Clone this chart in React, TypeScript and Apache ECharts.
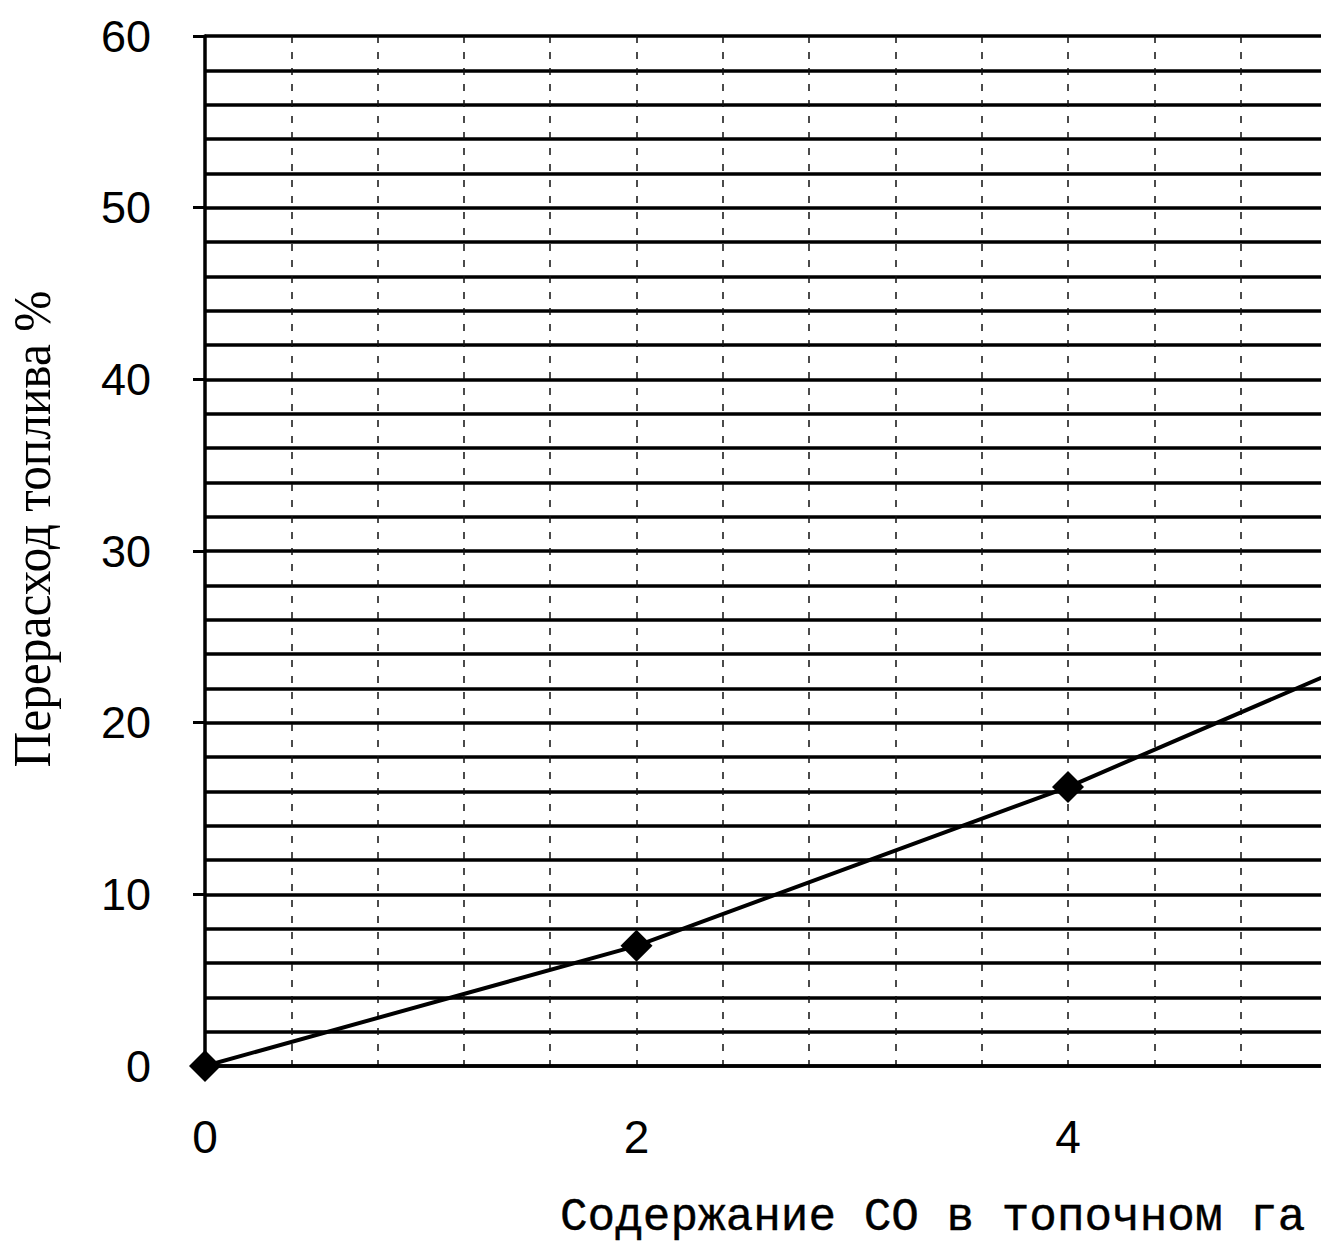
import React, { useEffect, useRef } from "react";
import * as echarts from "echarts";

const coContent: number[] = [0, 2, 4, 6];
const fuelOverrun: number[] = [0, 7, 16.25, 27.1];
const yTitle = "Перерасход топлива %";
const xTitle = "Содержание СО в топочном га";

export default function App() {
  const ref = useRef<HTMLDivElement>(null);
  useEffect(() => {
    if (!ref.current) return;
    const chart = echarts.init(ref.current, undefined, { renderer: "svg" });
    const data = coContent.map((x, i) => [x, fuelOverrun[i]]);
    chart.setOption({
      animation: false,
      backgroundColor: "#ffffff",
      grid: { left: 205, top: 36, bottom: 185, right: 100.5, containLabel: false },
      xAxis: {
        type: "value",
        min: 0,
        max: 6,
        interval: 2,
        axisLine: { show: true, lineStyle: { color: "#000", width: 3.5 } },
        axisTick: { show: false },
        axisLabel: {
          color: "#000",
          fontFamily: "Liberation Sans",
          fontSize: 46,
          margin: 48,
          showMaxLabel: false,
        },
        splitLine: { show: true, lineStyle: { color: "#111", width: 1.5, type: [7, 9] } },
        minorTick: { show: false, splitNumber: 5 },
        minorSplitLine: { show: true, lineStyle: { color: "#111", width: 1.5, type: [7, 9] } },
      },
      yAxis: {
        type: "value",
        min: 0,
        max: 60,
        interval: 10,
        axisLine: { show: true, lineStyle: { color: "#000", width: 3.5 } },
        axisTick: { show: true, length: 12, lineStyle: { color: "#000", width: 3 } },
        axisLabel: {
          color: "#000",
          fontFamily: "Liberation Sans",
          fontSize: 45,
          margin: 54,
        },
        splitLine: { show: true, lineStyle: { color: "#000", width: 3.5 } },
        minorTick: { show: false, splitNumber: 5 },
        minorSplitLine: { show: true, lineStyle: { color: "#000", width: 3.5 } },
      },
      series: [
        {
          type: "line",
          data,
          symbol: "diamond",
          symbolSize: 32,
          lineStyle: { color: "#000", width: 4 },
          itemStyle: { color: "#000" },
          z: 5,
        },
      ],
      graphic: [
        {
          type: "text",
          x: 33,
          y: 529,
          rotation: Math.PI / 2,
          scaleX: 0.95,
          style: {
            text: yTitle,
            fill: "#000",
            fontFamily: "Liberation Serif",
            fontSize: 52,
            align: "center",
            verticalAlign: "middle",
          },
        },
        {
          type: "text",
          x: 560,
          y: 1218,
          style: {
            text: xTitle,
            fill: "#000",
            fontFamily: "Liberation Mono",
            fontSize: 46,
            align: "left",
            verticalAlign: "middle",
            stroke: "#000",
            lineWidth: 0.4,
          },
        },
      ],
    });
    return () => chart.dispose();
  }, []);
  return (
    <div
      style={{
        position: "fixed",
        left: 0,
        top: 0,
        width: 1321,
        height: 1251,
        overflow: "hidden",
        background: "#fff",
      }}
    >
      <div ref={ref} style={{ width: 1600, height: 1251 }} />
    </div>
  );
}
